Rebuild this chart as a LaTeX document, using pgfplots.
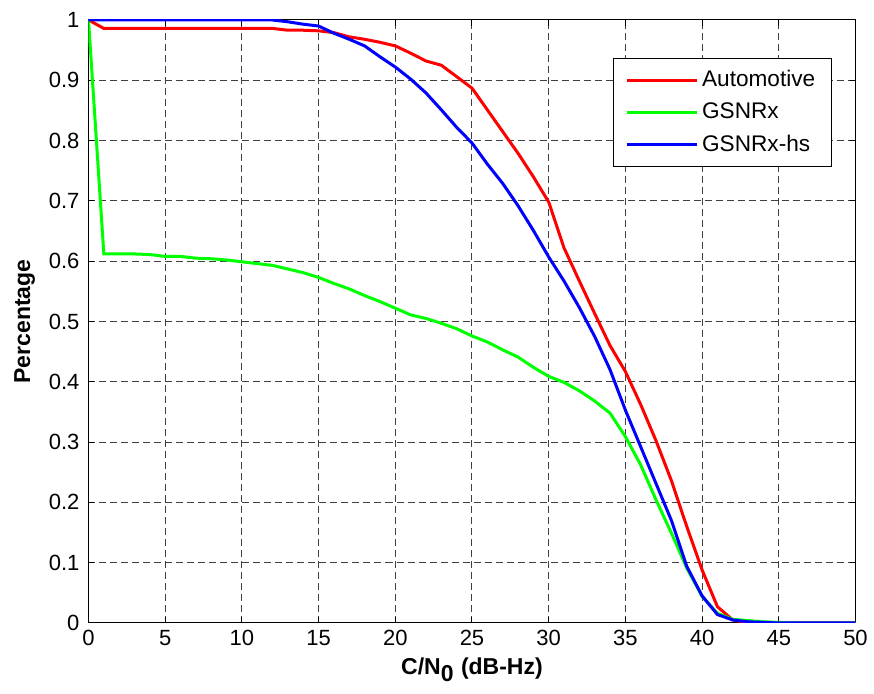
\documentclass[border=0pt]{standalone}
\usepackage{pgfplots}
\pgfplotsset{compat=1.18}
\usepackage{fontspec}
\setmainfont{Liberation Sans}
\begin{document}
\begin{tikzpicture}
\begin{axis}[
  scale only axis,
  width=383.5pt, height=301.5pt,
  xmin=0, xmax=50, ymin=0, ymax=1,
  xtick={0,5,...,50},
  ytick={0,0.1,...,1},
  yticklabels={0,0.1,0.2,0.3,0.4,0.5,0.6,0.7,0.8,0.9,1},
  tick align=inside,
  major tick length=3pt,
  tick style={black, line width=0.5pt},
  axis line style={black, line width=0.5pt},
  xtick pos=both, ytick pos=both,
  grid=major,
  major grid style={dash pattern=on 3.5pt off 2pt, black!75, line width=0.5pt},
  /pgf/number format/assume math mode=true,
  ticklabel style={font=\fontsize{11}{13}\selectfont},
  xticklabel style={yshift=0pt},
  yticklabel style={xshift=-1pt},
  xlabel={\bfseries C/N$_{\textbf{0}}$ (dB-Hz)},
  ylabel={\bfseries Percentage},
  label style={font=\fontsize{11.5}{13}\selectfont},
  xlabel style={yshift=1pt},
  ylabel style={yshift=0pt},
  legend style={at={(0.969,0.937)}, anchor=north east, draw=black, line width=0.5pt,
    font=\fontsize{11.3}{13.5}\selectfont, inner xsep=6pt, inner ysep=4pt,
    row sep=2.5pt, cells={anchor=west}},
  legend image code/.code={\draw[#1] (0pt,0pt) -- (35pt,0pt);},
  every axis plot/.append style={line width=1.5pt},
]
\coordinate (sw) at (rel axis cs:0,0);
\coordinate (ne) at (rel axis cs:1,1);
\addplot[red] coordinates {
(0,1) (1,0.986) (2,0.986) (3,0.986) (4,0.986) (5,0.986) (6,0.986) (7,0.986) (8,0.986) (9,0.986) (10,0.986) (11,0.986) (12,0.986)
(13,0.983) (14,0.983) (15,0.982) (16,0.979) (17,0.972) (18,0.968) (19,0.963) (20,0.957)
(21,0.945) (22,0.932) (23,0.925) (24,0.906) (25,0.887) (26,0.851) (27,0.815) (28,0.779) (29,0.740) (30,0.698)
(31,0.622) (32,0.567) (33,0.513) (34,0.460) (35,0.417) (36,0.362) (37,0.302) (38,0.236) (39,0.160) (40,0.088)
(41,0.027) (42,0.005) (43,0) (44,0) (45,0) (46,0) (47,0) (48,0) (49,0) (50,0)
};
\addlegendentry{Automotive}
\addplot[green] coordinates {
(0,1) (1,0.612) (2,0.612) (3,0.612) (4,0.611) (5,0.608) (6,0.608) (7,0.605) (8,0.604) (9,0.602) (10,0.599)
(11,0.596) (12,0.593) (13,0.587) (14,0.581) (15,0.573) (16,0.563) (17,0.554) (18,0.543) (19,0.533) (20,0.522)
(21,0.511) (22,0.505) (23,0.497) (24,0.488) (25,0.476) (26,0.466) (27,0.453) (28,0.441) (29,0.424) (30,0.409)
(31,0.399) (32,0.385) (33,0.368) (34,0.348) (35,0.309) (36,0.262) (37,0.204) (38,0.149) (39,0.091) (40,0.044)
(41,0.016) (42,0.006) (43,0.004) (44,0.002) (45,0.001) (46,0) (47,0) (48,0) (49,0) (50,0)
};
\addlegendentry{GSNRx}
\addplot[blue] coordinates {
(0,1) (1,1) (2,1) (3,1) (4,1) (5,1) (6,1) (7,1) (8,1) (9,1) (10,1) (11,1) (12,1)
(13,0.997) (14,0.993) (15,0.990) (16,0.978) (17,0.968) (18,0.957) (19,0.939) (20,0.922)
(21,0.902) (22,0.879) (23,0.851) (24,0.822) (25,0.796) (26,0.761) (27,0.729) (28,0.692) (29,0.651) (30,0.607)
(31,0.567) (32,0.523) (33,0.475) (34,0.420) (35,0.353) (36,0.292) (37,0.231) (38,0.170) (39,0.094) (40,0.045)
(41,0.014) (42,0.005) (43,0.002) (44,0.001) (45,0) (46,0) (47,0) (48,0) (49,0) (50,0)
};
\addlegendentry{GSNRx-hs}
\end{axis}
\pgfresetboundingbox
\path[use as bounding box] ([shift={(-44.25pt,-35.5pt)}]sw) rectangle ([shift={(9.25pt,10pt)}]ne);
\end{tikzpicture}
\end{document}
